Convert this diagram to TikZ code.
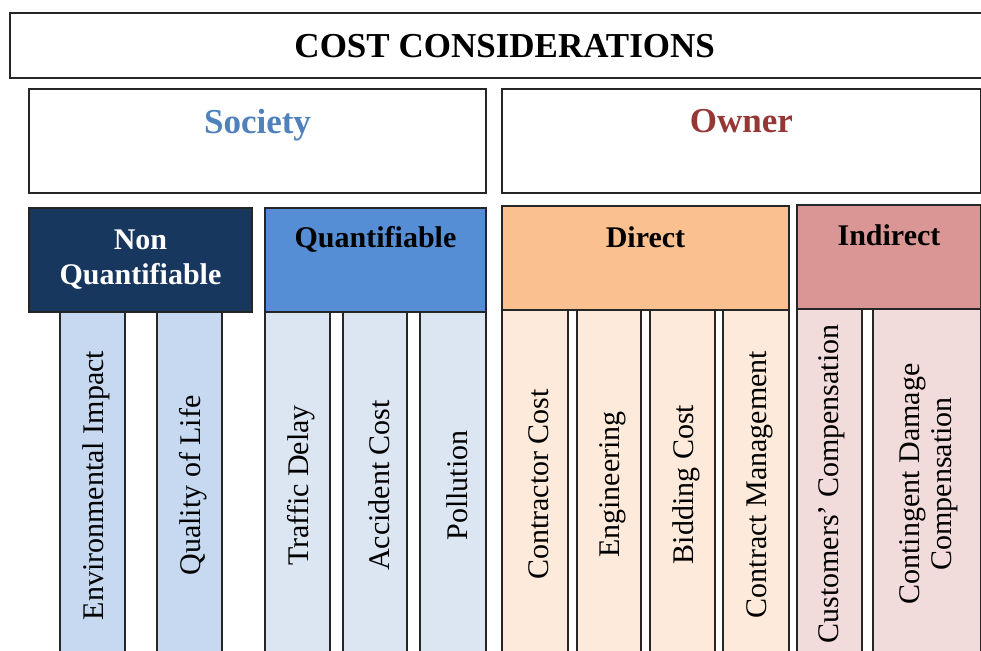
\documentclass[tikz,border=0pt]{standalone}
\usepackage{fontspec}
\setmainfont{Liberation Serif}
\usetikzlibrary{positioning}
\definecolor{navy}{HTML}{17375E}
\definecolor{skyblue}{HTML}{558ED5}
\definecolor{peach}{HTML}{FAC090}
\definecolor{rose}{HTML}{D99694}
\definecolor{paleblue}{HTML}{C6D9F1}
\definecolor{lightblue}{HTML}{DCE6F2}
\definecolor{palepeach}{HTML}{FDEADA}
\definecolor{palerose}{HTML}{F2DCDB}
\definecolor{socblue}{HTML}{4F81BD}
\definecolor{ownred}{HTML}{953735}
\definecolor{edge}{HTML}{262626}
\begin{document}
\begin{tikzpicture}[
        x=0.5pt, y=-0.5pt,
        cell/.style 2 args={
          draw=edge,
          line width=1pt,
          anchor=north west,
          inner sep=0pt,
          minimum width=(#1)*0.5pt,
          minimum height=(#2)*0.5pt
          },
        grouptext/.style={
          inner sep=0pt,
          font=\fontsize{17.5}{20}\selectfont\bfseries
          },
        headtext/.style={
          inner sep=0pt,
          align=center,
          font=\fontsize{15}{17.5}\selectfont\bfseries
          },
        coltext/.style={
          rotate=90,
          inner sep=0pt,
          align=center,
          font=\fontsize{15}{16}\selectfont
          }
        ]
        \useasboundingbox (0,0) rectangle (981,651);
        \clip (0,0) rectangle (981,651);
        % top row
        \node[cell={989}{65}, line width=1.2pt, font=\fontsize{17.5}{20}\selectfont\bfseries,
          anchor=north west] (title) at (9,12) {COST CONSIDERATIONS};
        \node[cell={457}{104}] (society) at (28,88) {};
        \node[cell={479}{104}] (owner) at (501,88) {};
        \node[grouptext, text=socblue, below=10.5pt of society.north] (societytext) {Society};
        \node[grouptext, text=ownred, below=10.5pt of owner.north] (ownertext) {Owner};
        % category headers
        \node[cell={223}{104}, fill=navy] (nonq) at (28,207) {};
        \node[cell={221}{104}, fill=skyblue] (quant) at (264,207) {};
        \node[cell={287}{104}, fill=peach] (direct) at (501,205) {};
        \node[cell={184}{104}, fill=rose] (indirect) at (796,204) {};
        \node[headtext, text=white, below=11pt of nonq.north] (nonqtext) {Non\\Quantifiable};
        \node[headtext, below=9.5pt of quant.north] (quanttext) {Quantifiable};
        \node[headtext, below=10.5pt of direct.north] (directtext) {Direct};
        \node[headtext, below=10pt of indirect.north] (indirecttext) {Indirect};
        % columns
        \foreach \xa/\xb/\name [count=\i] in {59/124/Environmental Impact, 156/221/Quality of Life}
        {\node[cell={\xb-\xa}{347}, fill=paleblue] (nq\i) at (\xa,311) {};
          \node[coltext] at ([xshift=2pt]nq\i.center) {\name};
        }
        \foreach \xa/\xb/\name [count=\i] in {264/329/Traffic Delay, 342/406/Accident Cost, 419/485/Pollution}
        {\node[cell={\xb-\xa}{347}, fill=lightblue] (qu\i) at (\xa,311) {};
          \node[coltext] at ([xshift=2pt]qu\i.center) {\name};
        }
        \foreach \xa/\xb/\name [count=\i] in {501/567/Contractor Cost, 576/640/Engineering,
          649/714/Bidding Cost, 722/788/Contract Management}
        {\node[cell={\xb-\xa}{349}, fill=palepeach] (di\i) at (\xa,309) {};
          \node[coltext] at ([xshift=2pt]di\i.center) {\name};
        }
        \foreach \xa/\xb/\name [count=\i] in {796/861/Customers’ Compensation, 872/980/{Contingent Damage\\Compensation}}
        {\node[cell={\xb-\xa}{350}, fill=palerose] (in\i) at (\xa,308) {};
          \node[coltext] at ([xshift=1pt]in\i.center) {\name};
        }
\end{tikzpicture}
\end{document}
